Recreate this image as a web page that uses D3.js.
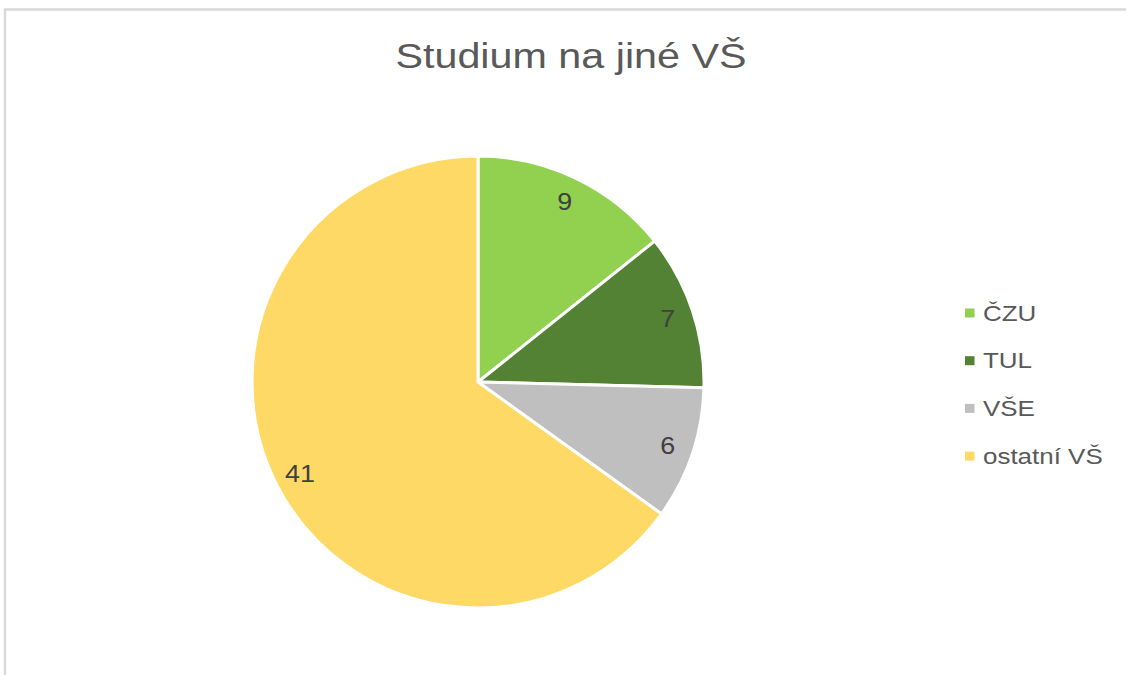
<!DOCTYPE html>
<html><head><meta charset="utf-8">
<script src="https://cdn.jsdelivr.net/npm/d3@7"></script>
<style>body{margin:0;background:#fff}svg{display:block}</style>
</head><body>
<script>
const categories = ["ČZU", "TUL", "VŠE", "ostatní VŠ"];
const values = [9, 7, 6, 41];
const colors = ["#92d050", "#548235", "#bfbfbf", "#ffd966"];
const title = "Studium na jiné VŠ";

const W = 1126, H = 675;
const SX = 1.18;
const svg = d3.select("body").append("svg").attr("width", W).attr("height", H);
const font = "'Liberation Sans', Arial, sans-serif";

// frame
svg.append("path").attr("d", `M5,${H} L5,9.5 L${W},9.5`).attr("fill", "none")
  .attr("stroke", "#d9d9d9").attr("stroke-width", 2.5);

svg.append("text").attr("transform", `translate(571,68) scale(${SX},1)`).attr("text-anchor", "middle")
  .attr("font-family", font).attr("font-size", 35).attr("fill", "#595959").text(title);

const cx = 478, cy = 382, r = 226;
const data = categories.map((c, i) => ({c, v: values[i], col: colors[i]}));
const pie = d3.pie().value(d => d.v).sort(null);
const arc = d3.arc().innerRadius(0).outerRadius(r);
const labelArc = d3.arc().innerRadius(r * 0.885).outerRadius(r * 0.885);
const g = svg.append("g").attr("transform", `translate(${cx},${cy})`);
const arcs = pie(data);
g.selectAll("path").data(arcs).join("path").attr("d", arc)
  .attr("fill", d => d.data.col).attr("stroke", "#fff").attr("stroke-width", 3)
  .attr("stroke-linejoin", "round");
g.selectAll("text").data(arcs).join("text")
  .attr("transform", d => `translate(${labelArc.centroid(d)}) scale(1.12,1)`)
  .attr("text-anchor", "middle").attr("dy", "0.36em")
  .attr("font-family", font).attr("font-size", 24).attr("fill", "#404040")
  .text(d => d.data.v);

const lg = svg.append("g");
const items = lg.selectAll("g").data(data).join("g")
  .attr("transform", (d, i) => `translate(965,${313 + i * 47.7})`);
items.append("rect").attr("x", 0).attr("y", -4.5).attr("width", 9.5).attr("height", 9).attr("fill", d => d.col);
items.append("text").attr("transform", `translate(18,0) scale(${SX},1)`).attr("dy", "0.35em")
  .attr("font-family", font).attr("font-size", 22).attr("fill", "#595959").text(d => d.c);
</script>
</body></html>
